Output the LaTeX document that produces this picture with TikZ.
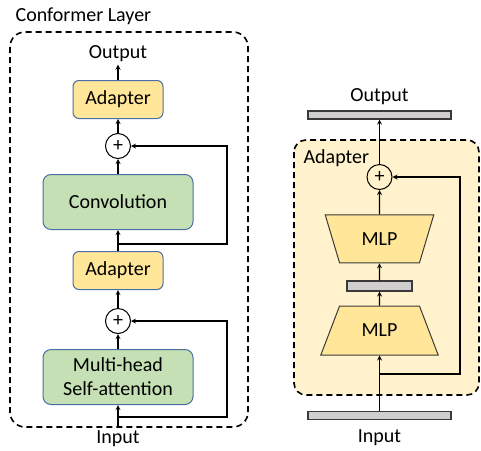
\documentclass[tikz,border=0pt]{standalone}
\usepackage{fontspec}
\setmainfont{Carlito}
\usetikzlibrary{positioning,shapes.geometric}
\definecolor{adapteryellow}{HTML}{FFE699}
\definecolor{convgreen}{HTML}{C5E0B4}
\definecolor{boxblue}{HTML}{4A6FA5}
\definecolor{adapterbg}{HTML}{FFF2CC}
\definecolor{barfill}{HTML}{D0CECE}
\definecolor{darkline}{HTML}{3A3A3A}
\begin{document}
\begin{tikzpicture}[x=1pt,y=-1pt,
  every node/.style={align=center,font=\fontsize{20}{24}\selectfont,inner sep=2pt},
  ybox/.style={draw=boxblue,fill=adapteryellow,rounded corners=6pt,line width=1pt,
    minimum width=90pt,minimum height=38pt},
  gbox/.style={draw=boxblue,fill=convgreen,rounded corners=8pt,line width=1pt,
    minimum width=150pt,minimum height=55pt},
  sumnode/.style={draw,circle,line width=1pt,minimum size=25pt,inner sep=0pt,
    font=\fontsize{20}{20}\selectfont},
  bar/.style={draw=darkline,fill=barfill,line width=1.2pt,minimum height=8pt,inner sep=0pt},
  mlp/.style={trapezium,trapezium stretches=true,draw=darkline,fill=adapteryellow,line width=1pt},
  frame/.style={dash pattern=on 6pt off 4pt,line width=1.6pt},
  >=stealth, line width=1.2pt]
\useasboundingbox (0,0) rectangle (481,450);
% conformer layer
\node[anchor=west] (title) at (13,16) {Conformer Layer};
\draw[frame,rounded corners=15pt] (10,32) rectangle (248,427);
\node[gbox] (mha) at (118,377) {Multi-head\\Self-attention};
\node[sumnode,above=15pt of mha] (sumlow) {+};
\node[ybox,above=18pt of sumlow] (adlow) {Adapter};
\node[gbox,above=21pt of adlow] (conv) {Convolution};
\node[sumnode,above=15pt of conv] (sumup) {+};
\node[ybox,above=14pt of sumup] (adup) {Adapter};
\node (outl) at (118,54) {Output};
\node (inl) at (118,439) {Input};
\coordinate (brlow) at (118,417);
\coordinate (cnlow) at (227,417);
\coordinate (brup) at (118,244);
\coordinate (cnup) at (227,244);
\draw[->] (inl) -- (mha);
\draw[->] (mha) -- (sumlow);
\draw[->] (sumlow) -- (adlow);
\draw[->] (adlow) -- (conv);
\draw[->] (conv) -- (sumup);
\draw[->] (sumup) -- (adup);
\draw[->] (adup) -- (outl);
\draw[->] (brlow) -- (cnlow) |- (sumlow.east);
\draw[->] (brup) -- (cnup) |- (sumup.east);
% adapter detail
\draw[frame,fill=adapterbg,rounded corners=12pt] (294,140) rectangle (479,395);
\node[anchor=west] (adtitle) at (301,158) {Adapter};
\node[bar,minimum width=143pt] (inbar) at (379.5,415.5) {};
\node[mlp,minimum width=118pt,minimum height=49pt,
  trapezium left angle=61,trapezium right angle=61] (mlpdown) at (379.5,330.5) {MLP};
\node[bar,minimum width=65pt,minimum height=10pt,above=14pt of mlpdown] (midbar) {};
\node[mlp,minimum width=109pt,minimum height=48pt,shape border rotate=180,
  trapezium left angle=67,trapezium right angle=67,above=17pt of midbar] (mlpup) {MLP};
\node[sumnode] (sumad) at (379.5,177) {+};
\node[bar,minimum width=143pt] (outbar) at (379.5,115) {};
\node (outr) at (379.5,97) {Output};
\node (inr) at (379.5,438) {Input};
\coordinate (bradapt) at (379.5,374);
\coordinate (cnadapt) at (460,374);
\draw[->] (inbar) -- (mlpdown);
\draw[->] (mlpdown) -- (midbar);
\draw[->] (midbar) -- (mlpup);
\draw[->] (mlpup) -- (sumad);
\draw[->] (sumad) -- (outbar);
\draw[->] (bradapt) -- (cnadapt) |- (sumad.east);
\end{tikzpicture}
\end{document}
